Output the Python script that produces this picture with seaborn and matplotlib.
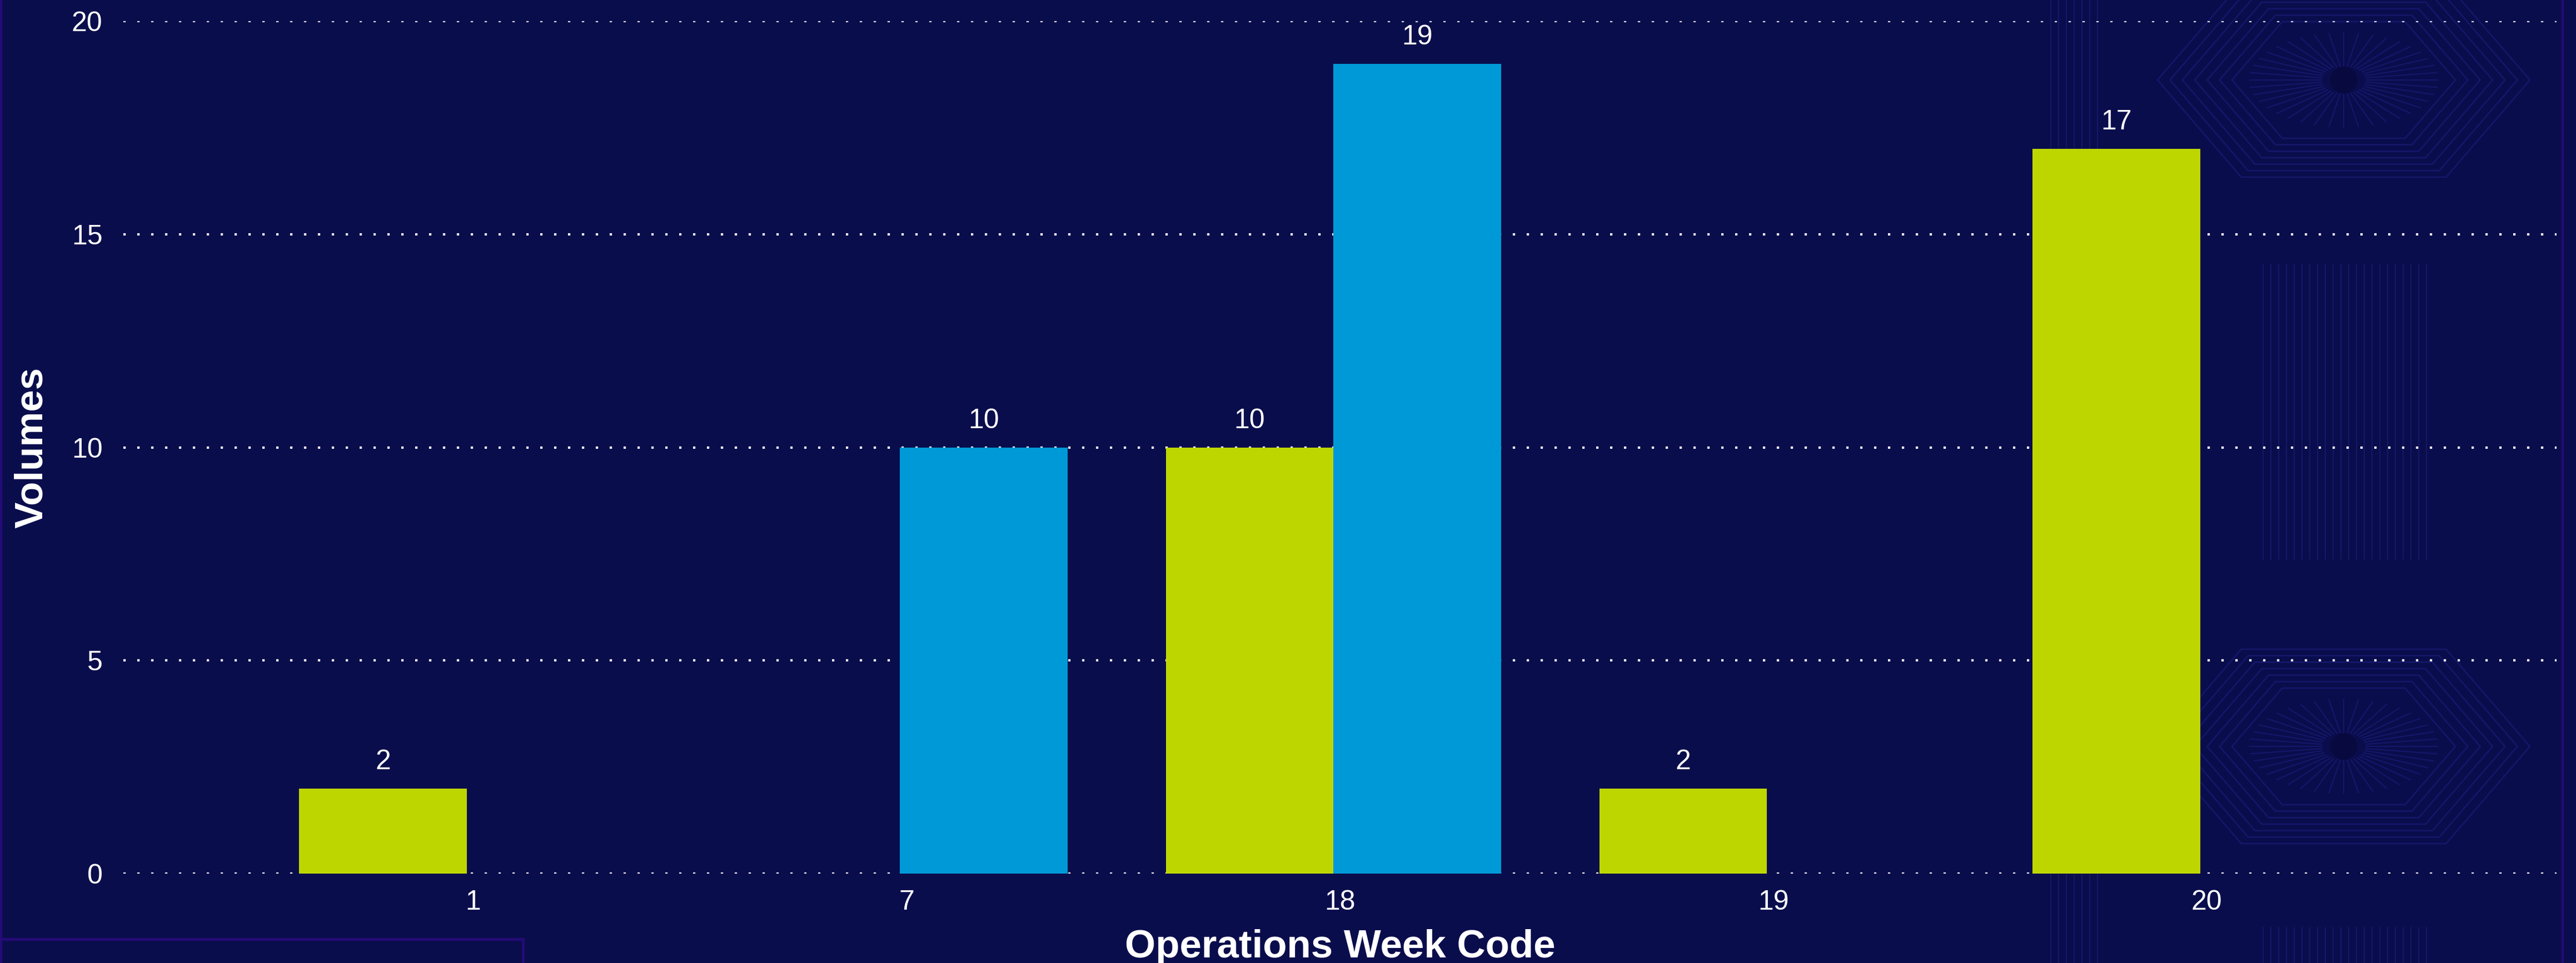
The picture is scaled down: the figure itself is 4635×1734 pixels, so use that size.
import pandas as pd
import numpy as np
import matplotlib
matplotlib.use("Agg")
import matplotlib.pyplot as plt
import seaborn as sns
from matplotlib.patches import Rectangle, Polygon, Circle
from matplotlib.lines import Line2D

# -----------------------------
# DATA
# -----------------------------
week_codes = ["1", "7", "18", "19", "20"]
series_names = ["Series 1", "Series 2"]
series_1 = [2, np.nan, 10, 2, 17]
series_2 = [np.nan, 10, 19, np.nan, np.nan]

BG = "#0A0D4C"
GREEN = "#BED600"
BLUE = "#0099D8"
BORDER = "#250A78"
PATTERN = "#15176A"

rows = []
for wk, v1, v2 in zip(week_codes, series_1, series_2):
    if not np.isnan(v1):
        rows.append({"week": wk, "series": series_names[0], "volume": v1})
    if not np.isnan(v2):
        rows.append({"week": wk, "series": series_names[1], "volume": v2})
df = pd.DataFrame(rows)

# -----------------------------
# STYLE
# -----------------------------
sns.set_theme(style="dark")
plt.rcParams["font.family"] = ["Liberation Sans", "DejaVu Sans"]

W, H = 4635, 1734
fig = plt.figure(figsize=(15.45, 5.78), dpi=300, facecolor=BG)

# -----------------------------
# BACKGROUND ORNAMENT (right side)
# -----------------------------
bg_ax = fig.add_axes([0, 0, 1, 1], zorder=-1)
bg_ax.set_xlim(0, W)
bg_ax.set_ylim(H, 0)
bg_ax.axis("off")
bg_ax.set_facecolor(BG)

cx = 4217
for cy in [144, 1344]:
    for k in np.linspace(0.6, 1.0, 7):
        w, h = 335 * k, 175 * k
        bg_ax.add_patch(Polygon(
            [(cx - w, cy), (cx - 0.55 * w, cy - h), (cx + 0.55 * w, cy - h),
             (cx + w, cy), (cx + 0.55 * w, cy + h), (cx - 0.55 * w, cy + h)],
            closed=True, fill=False, edgecolor=PATTERN, linewidth=0.6))
    for a in np.linspace(0, 2 * np.pi, 40, endpoint=False):
        bg_ax.plot([cx + 40 * np.cos(a), cx + 170 * np.cos(a)],
                   [cy + 25 * np.sin(a), cy + 85 * np.sin(a)],
                   color=PATTERN, linewidth=0.5)
    bg_ax.add_patch(Circle((cx, cy), 22, color="#07093F"))

for x in np.arange(4072, 4370, 14):
    bg_ax.plot([x, x], [476, 1007], color=PATTERN, linewidth=0.5)
    bg_ax.plot([x, x], [1670, H], color=PATTERN, linewidth=0.5)
for x in np.arange(3690, 3785, 14):
    bg_ax.plot([x, x], [0, H], color=PATTERN, linewidth=0.5)

# -----------------------------
# BAR CHART
# -----------------------------
ax = fig.add_axes([0.0479, 0.0928, 0.9445, 0.8852])
ax.set_facecolor("none")

sns.barplot(
    data=df, x="week", y="volume", hue="series",
    order=week_codes, hue_order=series_names,
    palette=[GREEN, BLUE], width=0.773, dodge=True,
    saturation=1, errorbar=None, legend=False, linewidth=0, ax=ax,
)

for c in ax.containers:
    ax.bar_label(c, fmt="%g", padding=6, color="white", fontsize=12)

# -----------------------------
# AXES
# -----------------------------
off = 0.015
ax.set_xlim(-0.807 + off, 4.807 + off)
ax.set_xticks(np.arange(len(week_codes)) + off, week_codes)
ax.set_ylim(0, 20)
ax.set_yticks([0, 5, 10, 15, 20])
ax.grid(axis="y", color="white", linestyle=(0, (1, 5)), linewidth=1)
ax.grid(axis="x", visible=False)
ax.set_axisbelow(True)
for s in ax.spines.values():
    s.set_visible(False)
ax.tick_params(axis="both", length=0, colors="white", labelsize=12)
ax.tick_params(axis="y", pad=9)
ax.tick_params(axis="x", pad=7)

ax.set_xlabel("Operations Week Code", color="white", fontsize=17,
              fontweight="bold", labelpad=6)
ax.set_ylabel("Volumes", color="white", fontsize=17,
              fontweight="bold", labelpad=9)

# -----------------------------
# FRAME DECORATION
# -----------------------------
fig.add_artist(Line2D([0.0005, 0.0005], [0, 1], transform=fig.transFigure,
                      color=BORDER, linewidth=1))
fig.add_artist(Line2D([0.9948, 0.9948], [0, 1], transform=fig.transFigure,
                      color=BORDER, linewidth=1))
fig.add_artist(Rectangle((0, -0.01), 0.203, 0.035, transform=fig.transFigure,
                         fill=False, edgecolor=BORDER, linewidth=1.2))

fig.savefig("out.png", dpi=300, facecolor=BG)
